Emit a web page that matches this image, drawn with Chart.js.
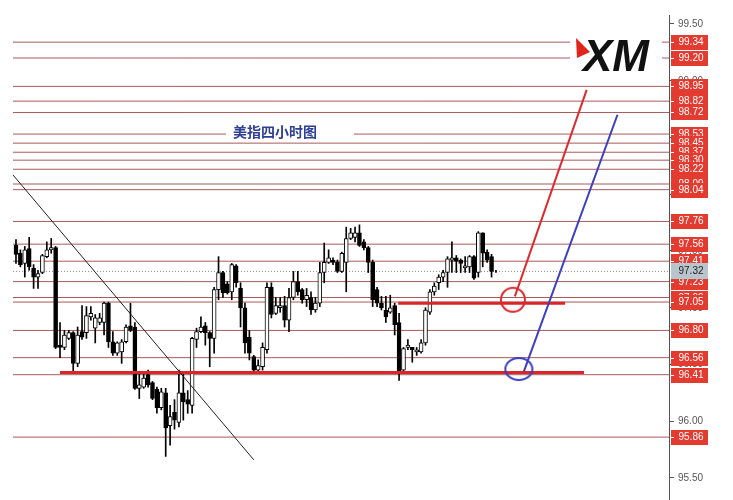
<!DOCTYPE html>
<html>
<head>
<meta charset="utf-8">
<script src="https://cdn.jsdelivr.net/npm/chart.js@4.4.0/dist/chart.umd.min.js"></script>
<style>
  html, body { margin: 0; padding: 0; background: #fff; }
</style>
</head>
<body>
<canvas id="chart" width="733" height="500"></canvas>
<script>
// 4h candles, oldest first
const opens = [97.55,97.48,97.39,97.52,97.35,97.27,97.31,97.45,97.51,97.53,
  96.67,96.65,96.73,96.78,96.51,96.79,96.78,96.92,96.82,96.87,
  96.87,97.04,96.70,96.60,96.61,96.70,96.84,96.83,96.29,96.30,
  96.41,96.34,96.28,96.12,96.25,95.96,96.08,95.99,96.25,96.19,
  96.14,96.72,96.79,96.84,96.78,96.73,97.16,97.31,97.21,97.14,
  97.37,97.17,97.00,96.74,96.57,96.45,96.48,96.63,97.18,96.95,
  97.00,97.02,96.89,97.09,97.23,97.16,97.07,97.09,96.98,97.04,
  97.31,97.40,97.42,97.40,97.32,97.40,97.61,97.62,97.66,97.58,
  97.53,97.40,97.16,97.04,96.98,96.96,97.02,96.87,96.45,96.65,
  96.65,96.61,96.61,96.69,96.96,97.14,97.22,97.27,97.31,97.42,
  97.44,97.42,97.35,97.36,97.45,97.31,97.66,97.49,97.45,97.32];
const highs = [97.60,97.51,97.54,97.62,97.38,97.33,97.47,97.58,97.61,97.54,
  96.87,96.80,96.80,96.79,96.83,97.02,97.01,97.01,96.94,96.95,
  97.05,97.05,96.79,96.70,96.72,96.85,97.04,96.87,96.42,96.42,
  96.45,96.35,96.30,96.29,96.29,96.14,96.19,96.45,96.42,96.27,
  96.74,96.82,96.92,96.87,96.79,97.18,97.45,97.32,97.23,97.39,
  97.38,97.22,97.04,96.80,96.58,96.54,96.69,97.22,97.22,97.09,
  97.09,97.10,97.17,97.32,97.32,97.17,97.17,97.14,97.09,97.40,
  97.57,97.51,97.44,97.42,97.49,97.71,97.70,97.71,97.73,97.60,
  97.54,97.42,97.18,97.10,97.10,97.11,97.04,96.95,96.65,96.72,
  96.65,96.65,96.72,97.00,97.16,97.22,97.29,97.33,97.45,97.58,
  97.46,97.43,97.45,97.46,97.46,97.67,97.66,97.51,97.47,97.33];
const lows = [97.39,97.36,97.27,97.33,97.17,97.17,97.30,97.44,97.48,96.64,
  96.56,96.63,96.72,96.43,96.48,96.72,96.73,96.89,96.69,96.85,
  96.76,96.65,96.58,96.58,96.51,96.69,96.79,96.28,96.20,96.29,
  96.30,96.19,96.07,96.10,95.69,95.79,95.93,95.95,96.01,96.07,
  96.07,96.65,96.78,96.67,96.48,96.60,97.07,97.09,97.12,97.07,
  97.18,96.83,96.60,96.54,96.43,96.43,96.45,96.60,96.91,96.94,
  96.96,96.83,96.79,97.07,97.11,97.04,97.01,96.94,96.96,97.01,
  97.22,97.39,97.38,97.31,97.31,97.14,97.60,97.58,97.54,97.51,
  97.31,97.01,97.01,96.98,96.87,96.95,96.76,96.36,96.43,96.63,
  96.52,96.58,96.60,96.67,96.94,97.11,97.16,97.23,97.18,97.31,
  97.31,97.31,97.31,97.31,97.25,97.27,97.36,97.40,97.27,97.31];
const closes = [97.47,97.38,97.51,97.36,97.27,97.30,97.46,97.51,97.53,96.65,
  96.65,96.76,96.78,96.51,96.76,96.74,96.93,96.95,96.91,96.91,
  97.04,96.70,96.60,96.69,96.70,96.83,96.80,96.29,96.32,96.38,
  96.32,96.20,96.12,96.26,95.94,96.04,96.01,96.25,96.17,96.15,
  96.73,96.79,96.83,96.78,96.73,97.16,97.31,97.13,97.13,97.38,
  97.22,97.00,96.69,96.60,96.45,96.49,96.65,97.18,96.94,97.02,
  97.02,96.89,97.09,97.23,97.14,97.07,97.11,96.98,97.04,97.31,
  97.40,97.44,97.40,97.32,97.48,97.61,97.66,97.66,97.55,97.53,
  97.40,97.07,97.04,97.00,96.92,97.00,96.85,96.43,96.64,96.67,
  96.63,96.63,96.69,96.98,97.14,97.19,97.27,97.31,97.43,97.44,
  97.41,97.39,97.37,97.45,97.26,97.66,97.48,97.42,97.32,97.32];

// horizontal levels marked on the chart (top to bottom)
const levels = [99.34,99.20,98.95,98.82,98.72,98.53,98.45,98.37,98.30,98.22,98.09,98.04,
  97.76,97.56,97.41,97.23,97.09,97.05,96.80,96.56,96.41,95.86];
const currentPrice = 97.32;
const yTicks = [95.5, 96.0, 96.5, 97.0, 97.5, 98.0, 98.5, 99.0, 99.5];

// hand drawn analysis
const supportLow = [{x: 10.0, y: 96.43}, {x: 129.0, y: 96.43}];
const supportHigh = [{x: 86.8, y: 97.04}, {x: 124.7, y: 97.04}];
const downTrend = [{x: -0.68, y: 98.17}, {x: 54.0, y: 95.66}];
const redPath = [{x: 113.3, y: 97.10}, {x: 129.6, y: 98.92}];
const bluePath = [{x: 115.35, y: 96.44}, {x: 136.6, y: 98.70}];
const redCircle = [{x: 112.85, y: 97.07}];
const blueCircle = [{x: 114.2, y: 96.46}];

const idx = opens.map((o, i) => i);
const xMin = -3.63, xMax = 148.3, lineStart = -0.68;

const levelSets = levels.map(v => ({
  type: 'line',
  data: [{x: lineStart, y: v}, {x: xMax, y: v}],
  borderColor: 'rgba(150,62,60,0.85)',
  borderWidth: 1,
  pointRadius: 0,
  order: 10
}));

function segment(data, color, width, order) {
  return { type: 'line', data: data, borderColor: color, borderWidth: width, pointRadius: 0, order: order };
}
// hand drawn ellipse used as point style
function ellipse(color, rx, ry) {
  const c = document.createElement('canvas');
  c.width = Math.ceil(rx * 2 + 4);
  c.height = Math.ceil(ry * 2 + 4);
  const g = c.getContext('2d');
  g.strokeStyle = color;
  g.lineWidth = 2;
  g.beginPath();
  g.ellipse(c.width / 2, c.height / 2, rx, ry, 0, 0, Math.PI * 2);
  g.stroke();
  return c;
}
function ring(data, color, rx, ry) {
  return { type: 'line', data: data, showLine: false, pointStyle: ellipse(color, rx, ry), order: 1 };
}

const overlay = {
  id: 'overlay',
  afterDatasetsDraw(chart) {
    const ctx = chart.ctx;
    ctx.save();
    // title sits on the 98.53 line
    ctx.fillStyle = '#fff';
    ctx.fillRect(226, 122, 128, 19);
    ctx.fillStyle = '#2e3f96';
    ctx.font = 'bold 14px "Noto Sans CJK SC"';
    ctx.textAlign = 'left';
    ctx.textBaseline = 'middle';
    ctx.fillText('美指四小时图', 233, 132);
    // XM logo
    ctx.fillStyle = '#fff';
    ctx.fillRect(570, 30, 92, 46);
    ctx.fillStyle = '#e2231a';
    ctx.beginPath();
    ctx.moveTo(576, 38);
    ctx.lineTo(590, 52);
    ctx.lineTo(577, 58);
    ctx.closePath();
    ctx.fill();
    ctx.fillStyle = '#111';
    ctx.font = 'italic bold 44px "Liberation Sans"';
    ctx.textBaseline = 'alphabetic';
    ctx.fillText('XM', 583, 71);
    ctx.restore();
  },
  afterDraw(chart) {
    const ctx = chart.ctx, ys = chart.scales.y, right = chart.chartArea.right;
    ctx.save();
    ctx.font = '10px "Liberation Sans"';
    ctx.textBaseline = 'middle';
    // plain tick labels
    ctx.fillStyle = '#555';
    ctx.textAlign = 'left';
    yTicks.forEach(v => {
      ctx.fillText(v.toFixed(2), right + 9, Math.round(ys.getPixelForValue(v)) + 0.5);
    });
    ctx.textAlign = 'center';
    levels.forEach(v => {
      const py = Math.round(ys.getPixelForValue(v));
      ctx.fillStyle = '#e43b30';
      ctx.fillRect(right + 2, py - 7, 37, 15);
      ctx.fillStyle = '#fff';
      ctx.fillRect(right + 2, py, 3, 1);
      ctx.fillText(v.toFixed(2), right + 22, py + 0.5);
    });
    const cp = Math.round(ys.getPixelForValue(currentPrice));
    ctx.fillStyle = '#b9c5cd';
    ctx.fillRect(right + 2, cp - 8, 37, 16);
    ctx.fillStyle = '#222';
    ctx.fillText(currentPrice.toFixed(2), right + 22, cp + 0.5);
    ctx.restore();
  }
};

new Chart(document.getElementById('chart'), {
  type: 'bar',
  data: {
    datasets: [
      ...levelSets,
      {
        type: 'line',
        data: [{x: lineStart, y: currentPrice}, {x: xMax, y: currentPrice}],
        borderColor: '#888', borderWidth: 1, borderDash: [1, 2], pointRadius: 0, order: 9
      },
      {
        data: idx.map(i => ({x: i, y: [lows[i], highs[i]]})),
        backgroundColor: '#000', barThickness: 1, grouped: false, order: 5
      },
      {
        data: idx.map(i => ({x: i, y: [opens[i], closes[i]]})),
        backgroundColor: idx.map(i => closes[i] >= opens[i] ? '#fff' : '#000'),
        borderColor: '#000', borderWidth: 1, borderSkipped: false,
        barThickness: 4, grouped: false, order: 4
      },
      segment(supportLow, '#d8262a', 3, 3),
      segment(supportHigh, '#d8262a', 3, 3),
      segment(downTrend, '#222', 1, 2),
      segment(redPath, '#dc2a2e', 2, 1),
      segment(bluePath, '#3b3fc0', 2, 1),
      ring(redCircle, '#dc2a2e', 12, 12),
      ring(blueCircle, '#3b3fc0', 13.5, 11)
    ]
  },
  options: {
    responsive: false,
    animation: false,
    layout: { autoPadding: false, padding: { top: 15, left: 0, right: 0, bottom: 0 } },
    plugins: { legend: { display: false }, tooltip: { enabled: false } },
    scales: {
      x: { type: 'linear', min: xMin, max: xMax, offset: false, display: false },
      y: {
        position: 'right',
        min: 95.306,
        max: 99.579,
        afterBuildTicks: s => { s.ticks = yTicks.map(v => ({value: v})); },
        afterFit: s => { s.width = 64; },
        ticks: { display: false },
        grid: { drawOnChartArea: false, tickLength: 5, color: '#555' },
        border: { color: '#555' }
      }
    }
  },
  plugins: [overlay]
});
</script>
</body>
</html>
